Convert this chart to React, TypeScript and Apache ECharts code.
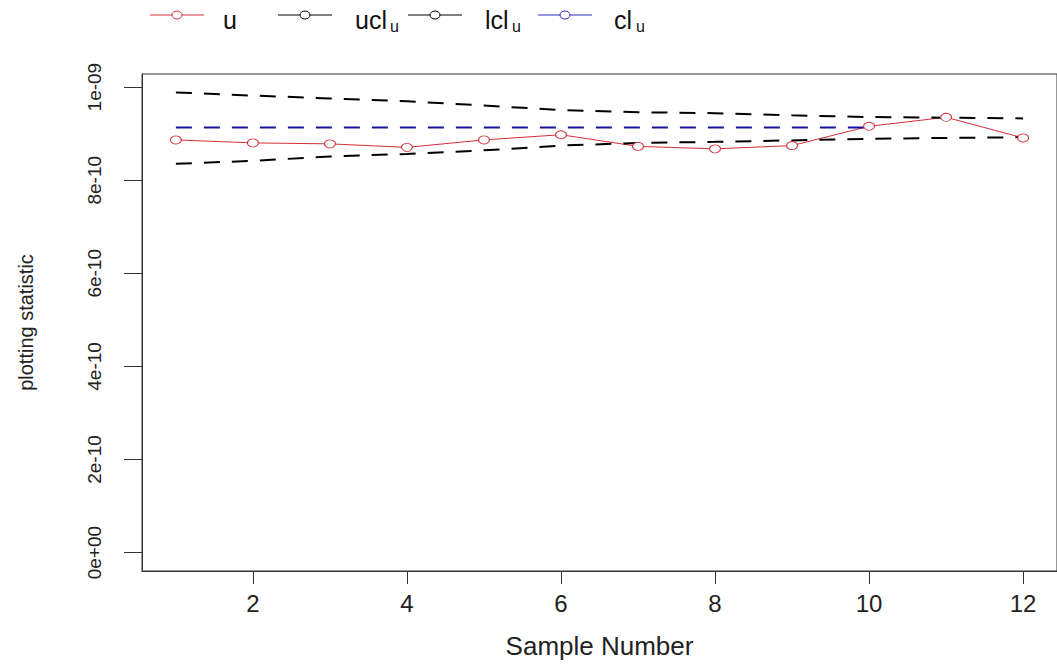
import React, { useEffect, useRef } from 'react';
import * as echarts from 'echarts';

// ---- data ----
const samples = [1, 2, 3, 4, 5, 6, 7, 8, 9, 10, 11, 12];
const uValues = [8.866e-10, 8.802e-10, 8.781e-10, 8.706e-10, 8.866e-10, 8.977e-10, 8.727e-10, 8.674e-10, 8.744e-10, 9.159e-10, 9.352e-10, 8.909e-10];
const uclValues = [9.887e-10, 9.818e-10, 9.758e-10, 9.696e-10, 9.604e-10, 9.508e-10, 9.461e-10, 9.44e-10, 9.395e-10, 9.358e-10, 9.343e-10, 9.328e-10];
const lclValues = [8.353e-10, 8.417e-10, 8.509e-10, 8.565e-10, 8.642e-10, 8.744e-10, 8.802e-10, 8.824e-10, 8.856e-10, 8.888e-10, 8.909e-10, 8.924e-10];
const clValues = [9.13e-10, 9.13e-10, 9.13e-10, 9.13e-10, 9.13e-10, 9.13e-10, 9.13e-10, 9.13e-10, 9.13e-10, 9.13e-10];
const xTickValues = [2, 4, 6, 8, 10, 12];
const yTickValues = [0, 2e-10, 4e-10, 6e-10, 8e-10, 1e-9];
const yTickLabels = ['0e+00', '2e-10', '4e-10', '6e-10', '8e-10', '1e-09'];
const legendNames = ['u', 'ucl', 'lcl', 'cl'];
const legendSubs = ['', 'u', 'u', 'u'];

const FONT = 'Liberation Sans, Arial, sans-serif';
const RED = '#d3303a';
const BLUE = '#12129e';
const BLACK = '#000000';

export default function App() {
  const ref = useRef<HTMLDivElement>(null);

  useEffect(() => {
    if (!ref.current) return;
    const chart = echarts.init(ref.current, undefined, { renderer: 'svg' });

    const pairs = (vals: number[]) => vals.map((v, i) => [samples[i], v]);

    // legend drawn as graphics (R-style legend)
    const legendColors = [RED, BLACK, BLACK, '#2a2ac0'];
    const lineStarts = [150, 278, 408, 538];
    const textStarts = [223, 355, 485, 614];
    const subStarts = [0, 390, 512, 636];
    const graphics: any[] = [];
    legendNames.forEach((name, i) => {
      const x0 = lineStarts[i];
      graphics.push({
        type: 'line',
        shape: { x1: x0, y1: 15, x2: x0 + 54, y2: 15 },
        style: { stroke: legendColors[i], lineWidth: 1 },
      });
      graphics.push({
        type: 'ellipse',
        shape: { cx: x0 + 27, cy: 15, rx: 5, ry: 4 },
        style: { fill: '#fff', stroke: legendColors[i], lineWidth: 1 },
      });
      graphics.push({
        type: 'text',
        x: textStarts[i],
        y: 32,
        style: { text: name, font: `25px ${FONT}`, fill: '#111', verticalAlign: 'bottom' },
      });
      if (legendSubs[i]) {
        graphics.push({
          type: 'text',
          x: subStarts[i],
          y: 34,
          style: { text: legendSubs[i], font: `16px ${FONT}`, fill: '#111', verticalAlign: 'bottom' },
        });
      }
    });

    const dashed = (color: string) => ({ color, width: 2, type: [16, 12] as any });

    chart.setOption({
      animation: false,
      backgroundColor: '#fff',
      grid: {
        left: 142,
        top: 74,
        width: 922,
        height: 500,
        show: true,
        borderColor: '#333',
        borderWidth: 1,
        backgroundColor: 'transparent',
      },
      xAxis: {
        type: 'value',
        min: 0.56,
        max: 12.44,
        axisLine: { show: true, onZero: false, lineStyle: { color: '#333', width: 1 } },
        splitLine: { show: false },
        axisTick: { show: true, length: 13, lineStyle: { color: '#333' }, customValues: xTickValues },
        axisLabel: {
          customValues: xTickValues,
          fontFamily: FONT,
          fontSize: 24,
          color: '#222',
          margin: 20,
          formatter: (v: number) => String(v),
        },
        name: 'Sample Number',
        nameLocation: 'middle',
        nameGap: 62,
        nameTextStyle: { fontFamily: FONT, fontSize: 26, color: '#222' },
      },
      yAxis: {
        type: 'value',
        min: -3.95e-11,
        max: 1.0282e-9,
        axisLine: { show: true, onZero: false, lineStyle: { color: '#333', width: 1 } },
        splitLine: { show: false },
        axisTick: { show: true, length: 18, lineStyle: { color: '#333' }, customValues: yTickValues },
        axisLabel: {
          customValues: yTickValues,
          rotate: 90,
          fontFamily: FONT,
          fontSize: 19,
          color: '#222',
          margin: 38,
          formatter: (v: number) => {
            const idx = yTickValues.findIndex((t) => Math.abs(t - v) < 1e-13);
            return idx >= 0 ? yTickLabels[idx] : '';
          },
        },
        name: 'plotting statistic',
        nameLocation: 'middle',
        nameGap: 106,
        nameRotate: 90,
        nameTextStyle: { fontFamily: FONT, fontSize: 20, color: '#222' },
      },
      graphic: graphics,
      series: [
        {
          name: 'u',
          type: 'line',
          data: pairs(uValues),
          symbol: 'circle',
          symbolSize: [11, 8],
          lineStyle: { color: RED, width: 1 },
          itemStyle: { color: '#ffffff', borderColor: RED, borderWidth: 1 },
        },
        {
          name: 'ucl',
          type: 'line',
          data: pairs(uclValues),
          symbol: 'none',
          lineStyle: dashed(BLACK),
        },
        {
          name: 'lcl',
          type: 'line',
          data: pairs(lclValues),
          symbol: 'none',
          lineStyle: dashed(BLACK),
        },
        {
          name: 'cl',
          type: 'line',
          data: pairs(clValues),
          symbol: 'none',
          lineStyle: dashed(BLUE),
        },
      ],
    });

    return () => chart.dispose();
  }, []);

  return (
    <div
      ref={ref}
      style={{ position: 'absolute', left: 0, top: 0, width: 1057, height: 664 }}
    />
  );
}
